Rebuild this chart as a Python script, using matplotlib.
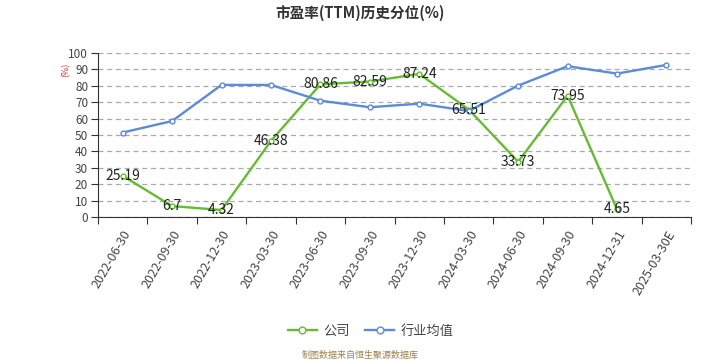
import matplotlib
matplotlib.use('Agg')
import matplotlib.pyplot as plt
import numpy as np

plt.rcParams['font.family'] = ['Noto Sans CJK SC', 'DejaVu Sans']

dates = ['2022-06-30', '2022-09-30', '2022-12-30', '2023-03-30', '2023-06-30',
         '2023-09-30', '2023-12-30', '2024-03-30', '2024-06-30', '2024-09-30',
         '2024-12-31', '2025-03-30E']
gongsi = [25.19, 6.7, 4.32, 46.38, 80.86, 82.59, 87.24, 65.51, 33.73, 73.95, 4.65]
hangye = [51.5, 58.5, 80.5, 80.5, 70.9, 66.9, 69.1, 64.6, 80.1, 91.9, 87.4, 92.7]

green = '#66bb33'
blue = '#5b8bd9'

fig = plt.figure(figsize=(7.2, 3.6), dpi=100)
ax = fig.add_axes([0.136, 0.397, 0.824, 0.456])

x = np.arange(len(dates))
ax.plot(x[:len(gongsi)], gongsi, color=green, lw=1.7, marker='o', ms=3.5,
        mfc='white', mec=green, mew=1, zorder=3, label='公司')
ax.plot(x, hangye, color=blue, lw=1.7, marker='o', ms=3.5,
        mfc='white', mec=blue, mew=1, zorder=3, label='行业均值')

for i, v in enumerate(gongsi):
    ax.text(x[i], v, f'{v:g}', ha='center', va='center', fontsize=10,
            color='#222222', zorder=4)

ax.set_xlim(-0.5, len(dates) - 0.5)
ax.set_ylim(0, 100)
ax.set_yticks(np.arange(0, 101, 10))
ax.yaxis.grid(True, ls=(0, (4, 3)), color='#aaaaaa', lw=0.9)
ax.set_axisbelow(True)

ax.set_xticks(np.arange(-0.5, len(dates), 1))
ax.set_xticklabels([])
ax.set_xticks(x, minor=True)
ax.set_xticklabels(dates, minor=True, rotation=60, ha='right',
                   rotation_mode='anchor', fontsize=9, color='#444444')
ax.tick_params(axis='x', which='minor', length=0, pad=8)
ax.tick_params(axis='x', which='major', length=5, color='#333333')
ax.tick_params(axis='y', length=5, pad=2, labelsize=8.5, labelcolor='#444444',
               color='#333333')

for s in ['top', 'right']:
    ax.spines[s].set_visible(False)
ax.spines['left'].set_color('#333333')
ax.spines['bottom'].set_color('#333333')

fig.text(0.5, 0.965, '市盈率(TTM)历史分位(%)', ha='center', va='center',
         fontsize=10.5, fontweight='bold', color='#333333')
fig.text(0.092, 0.805, '(%)', ha='center', va='center', rotation=90,
         fontsize=6.5, color='#cc3333')

fig.legend(loc='center', bbox_to_anchor=(0.515, 0.08), ncol=2, frameon=False,
           fontsize=9.5, handlelength=2.2, columnspacing=1.2, handletextpad=0.5,
           labelcolor='#444444', markerscale=1.4)

fig.text(0.5, 0.013, '制图数据来自恒生聚源数据库', ha='center', va='center',
         fontsize=6.5, color='#a08050')

fig.savefig('out.png', dpi=100)
